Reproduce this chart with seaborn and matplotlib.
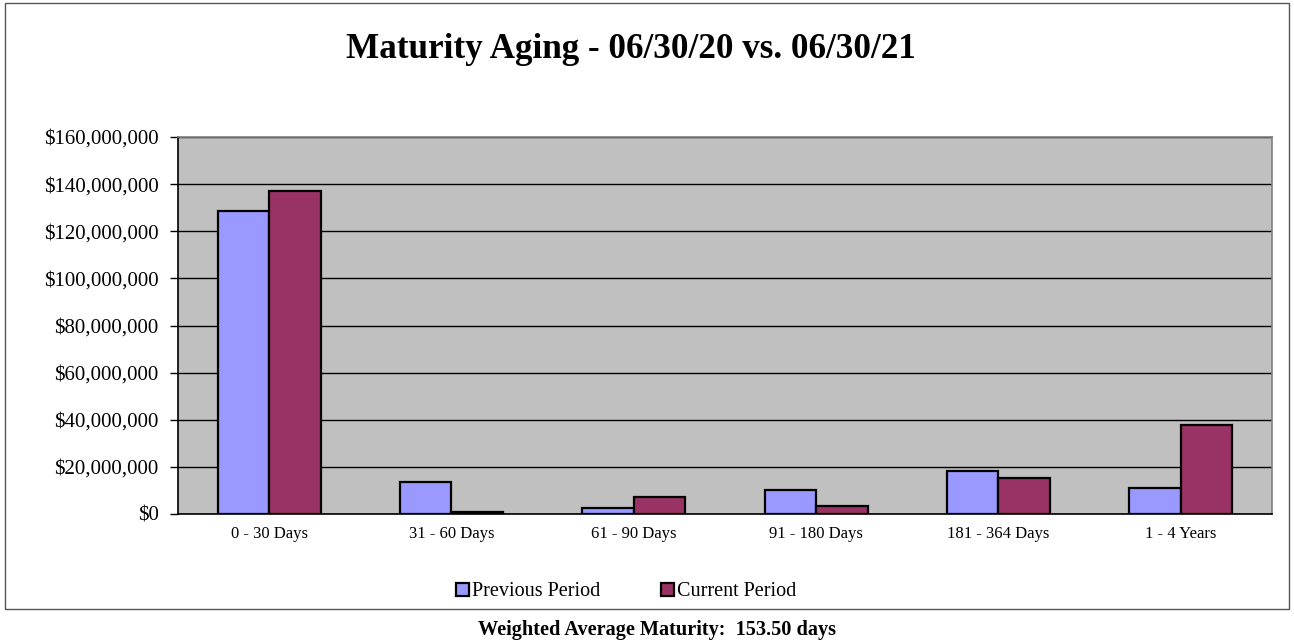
import pandas as pd
import seaborn as sns
import matplotlib.pyplot as plt
from matplotlib.patches import Rectangle
from matplotlib.ticker import FuncFormatter, FixedLocator

# Data
BUCKETS = ["0 - 30 Days", "31 - 60 Days", "61 - 90 Days",
           "91 - 180 Days", "181 - 364 Days", "1 - 4 Years"]
PREVIOUS = [128_800_000, 13_700_000, 2_500_000, 10_200_000, 18_200_000, 11_200_000]
CURRENT = [137_100_000, 1_000_000, 7_300_000, 3_300_000, 15_200_000, 37_900_000]
SERIES = ["Previous Period", "Current Period"]
COLORS = ["#9999FF", "#993366"]

df = pd.DataFrame({
    "bucket": BUCKETS * 2,
    "amount": PREVIOUS + CURRENT,
    "period": [SERIES[0]] * len(BUCKETS) + [SERIES[1]] * len(BUCKETS),
})

sns.set_style("white")
plt.rcParams["font.family"] = ["Liberation Serif", "DejaVu Serif"]
plt.rcParams["text.color"] = "black"
plt.rcParams["xtick.color"] = "black"
plt.rcParams["ytick.color"] = "black"

fig = plt.figure(figsize=(12.94, 6.41), dpi=100)
ax = fig.add_axes([178 / 1294, 1 - 514 / 641, (1272 - 178) / 1294, (514 - 137) / 641])

sns.barplot(data=df, x="bucket", y="amount", hue="period", hue_order=SERIES,
            order=BUCKETS, palette=COLORS, saturation=1, width=0.566,
            edgecolor="black", linewidth=1.6, errorbar=None, ax=ax, zorder=3)

ax.set_facecolor("#C0C0C0")
ax.set_ylim(0, 160_000_000)
ax.set_xlim(-0.5, len(BUCKETS) - 0.5)
ax.set_yticks(range(0, 160_000_001, 20_000_000))
ax.yaxis.set_major_formatter(FuncFormatter(lambda v, p: f"${v:,.0f}"))
ax.grid(axis="y", color="black", linewidth=1, zorder=1)
ax.set_axisbelow(True)
ax.set_xlabel("")
ax.set_ylabel("")

# ticks between categories, like the spreadsheet chart
ax.xaxis.set_minor_locator(FixedLocator([i - 0.5 for i in range(len(BUCKETS) + 1)]))
ax.tick_params(axis="x", which="major", length=0, labelsize=12, pad=9)
ax.tick_params(axis="x", which="minor", length=5, width=1, color="black", direction="out")
ax.tick_params(axis="y", length=6, width=1, color="black", direction="out",
               labelsize=15, pad=8, left=True)

for side in ["left", "bottom"]:
    ax.spines[side].set_color("black")
    ax.spines[side].set_linewidth(1.2)
for side in ["top", "right"]:
    ax.spines[side].set_color("#808080")
    ax.spines[side].set_linewidth(1.2)

handles, labels = ax.get_legend_handles_labels()
ax.legend_.remove()
fig.legend(handles, labels, loc="center", bbox_to_anchor=(626 / 1294, 1 - 592 / 641),
           ncol=2, frameon=False, fontsize=14.5, handlelength=0.65, handleheight=0.65,
           handletextpad=0.15, columnspacing=3.0)

fig.text(631 / 1294, 1 - 50 / 641, "Maturity Aging - 06/30/20 vs. 06/30/21",
         ha="center", va="center", fontsize=25.3, fontweight="bold")
fig.text(657 / 1294, 1 - 630 / 641, "Weighted Average Maturity:  153.50 days",
         ha="center", va="center", fontsize=14.6, fontweight="bold")

fig.patches.append(Rectangle((5 / 1294, 1 - 609 / 641), 1284 / 1294, 606 / 641,
                             transform=fig.transFigure, fill=False,
                             edgecolor="#555555", linewidth=1))

fig.savefig("out.png", dpi=100)
